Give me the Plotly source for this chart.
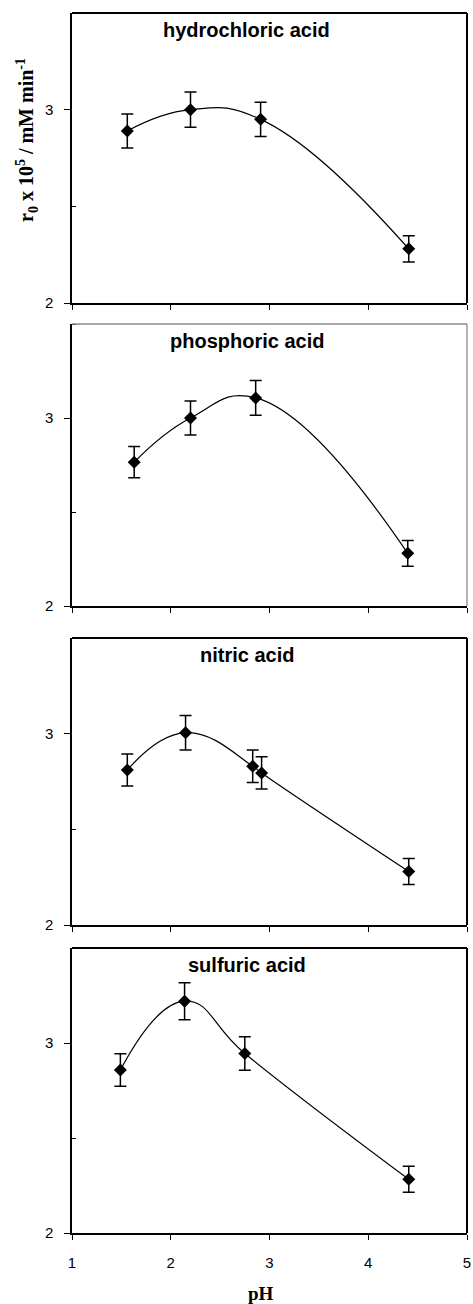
import plotly.graph_objects as go

W, H = 473, 1304

acids = ["hydrochloric acid", "phosphoric acid", "nitric acid", "sulfuric acid"]

ph_hcl = [1.56, 2.20, 2.91, 4.41]
r_hcl = [2.89, 3.00, 2.95, 2.28]
e_hcl = [0.088, 0.091, 0.089, 0.068]

ph_h3po4 = [1.63, 2.20, 2.86, 4.40]
r_h3po4 = [2.765, 3.00, 3.107, 2.28]
e_h3po4 = [0.083, 0.090, 0.093, 0.068]

ph_hno3 = [1.56, 2.15, 2.83, 2.92, 4.41]
r_hno3 = [2.81, 3.005, 2.83, 2.795, 2.28]
e_hno3 = [0.084, 0.090, 0.085, 0.084, 0.068]

ph_h2so4 = [1.49, 2.14, 2.75, 4.41]
r_h2so4 = [2.858, 3.22, 2.945, 2.283]
e_h2so4 = [0.086, 0.097, 0.088, 0.068]

xs = [ph_hcl, ph_h3po4, ph_hno3, ph_h2so4]
ys = [r_hcl, r_h3po4, r_hno3, r_h2so4]
es = [e_hcl, e_h3po4, e_hno3, e_h2so4]

x_ticks = [1, 2, 3, 4, 5]
y_ticks = [2, 2.5, 3, 3.5]
y_ticktext = ["2", "", "3", ""]
y_minor_ticks = [2.5, 3.5]

# pixel bands (top, bottom) of each panel
bands = [(13, 303), (324, 606), (638, 925), (948, 1233)]
border_colors = ["#000000", "#8c8c8c", "#000000", "#000000"]

fig = go.Figure()
layout = dict(
    width=W, height=H,
    margin=dict(l=0, r=0, t=0, b=0, autoexpand=False),
    paper_bgcolor="white", plot_bgcolor="white",
    showlegend=False,
)
shapes = []
annotations = []
xdom = [72 / W, 467 / W]
tickfont = dict(family="Liberation Sans, Arial", size=15, color="black")

for i in range(4):
    n = "" if i == 0 else str(i + 1)
    xa, ya = "x" + n, "y" + n
    fig.add_trace(go.Scatter(
        x=xs[i], y=ys[i], xaxis=xa, yaxis=ya,
        mode="lines+markers",
        line=dict(color="black", width=1.2, shape="spline", smoothing=1.3),
        marker=dict(symbol="diamond", size=10, color="black"),
        error_y=dict(type="data", array=es[i], visible=True, color="black",
                     thickness=1.5, width=6),
    ))
    top, bot = bands[i]
    layout["xaxis" + n] = dict(
        domain=xdom, anchor=ya, range=[1, 5], tickvals=x_ticks,
        showticklabels=(i == 3), ticks="outside", ticklen=5, tickwidth=1.2,
        tickcolor="black", showline=True, linecolor="black", linewidth=2,
        showgrid=False, zeroline=False, tickfont=tickfont,
        ticklabelstandoff=10, automargin=False,
    )
    layout["yaxis" + n] = dict(
        domain=[1 - bot / H, 1 - top / H], anchor=xa, range=[2, 3.5],
        tickvals=y_ticks, ticktext=y_ticktext, ticks="outside", ticklen=6,
        tickwidth=1.2, tickcolor="black", showline=True, linecolor="black",
        linewidth=1.5, showgrid=False, zeroline=False, tickfont=tickfont,
        ticklabelstandoff=8, automargin=False,
        minor=dict(tickvals=y_minor_ticks, ticks="inside", ticklen=4,
                   tickwidth=1.2, tickcolor="black"),
    )
    c = border_colors[i]
    shapes.append(dict(type="line", xref=xa + " domain", yref=ya + " domain",
                       x0=0, x1=1, y0=1, y1=1,
                       line=dict(color=c, width=2 if i != 1 else 1.3)))
    shapes.append(dict(type="line", xref=xa + " domain", yref=ya + " domain",
                       x0=1, x1=1, y0=0, y1=1,
                       line=dict(color=c, width=2 if i != 1 else 1.3)))
    annotations.append(dict(
        text=acids[i], xref=xa, yref=ya, x=2.77, y=3.41, showarrow=False,
        font=dict(family="Liberation Sans, Arial", size=20, color="black",
                  weight="bold"),
        xanchor="center", yanchor="middle",
    ))

annotations.append(dict(
    text="r<sub>0</sub> x 10<sup>5</sup> / mM min<sup>-1</sup>",
    xref="paper", yref="paper", x=27 / W, y=1 - 140 / H, textangle=-90,
    showarrow=False, xanchor="center", yanchor="middle",
    font=dict(family="Liberation Serif, Times New Roman", size=20,
              color="black", weight="bold"),
))
annotations.append(dict(
    text="pH", xref="paper", yref="paper", x=261 / W, y=1 - 1293 / H,
    showarrow=False, xanchor="center", yanchor="middle",
    font=dict(family="Liberation Serif, Times New Roman", size=19,
              color="black", weight="bold"),
))

layout["shapes"] = shapes
layout["annotations"] = annotations
fig.update_layout(**layout)
fig.write_html("out.html")
